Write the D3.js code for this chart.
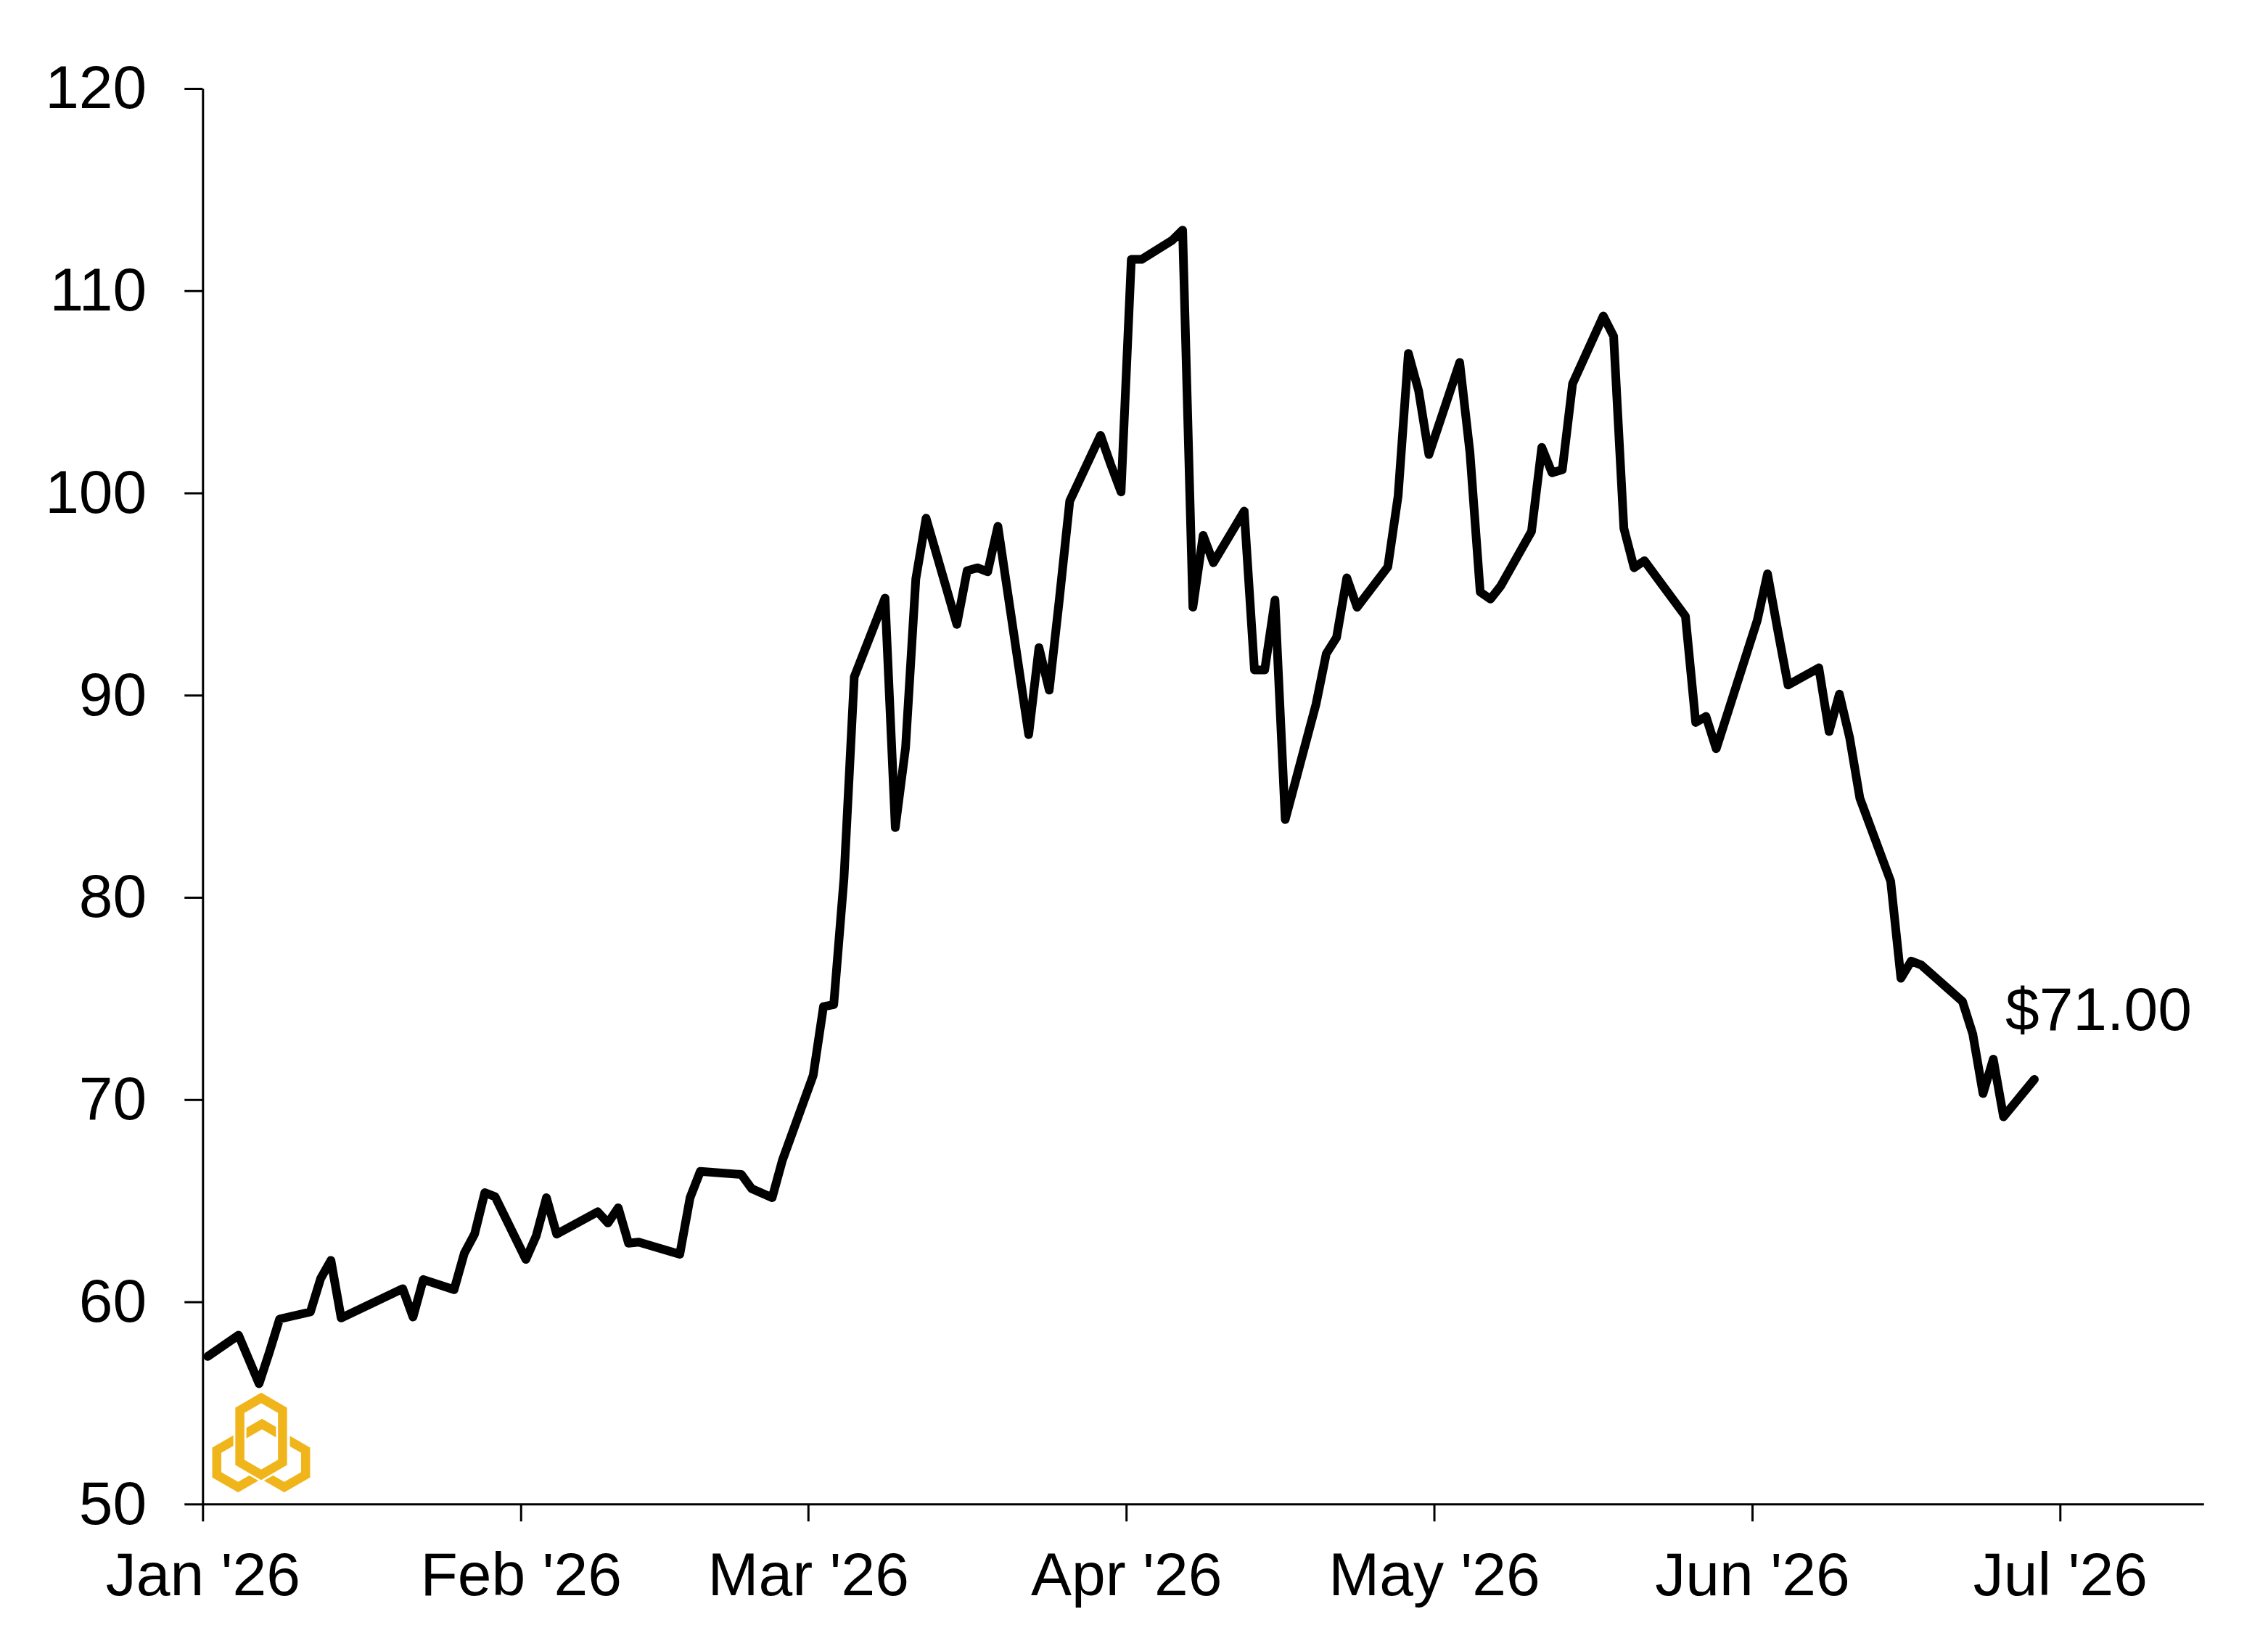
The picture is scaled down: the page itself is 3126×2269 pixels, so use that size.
<!DOCTYPE html>
<html>
<head>
<meta charset="utf-8">
<script src="https://cdn.jsdelivr.net/npm/d3@7"></script>
<style>
  html, body { margin: 0; padding: 0; background: #fff; }
  svg { display: block; }
</style>
</head>
<body>
<div id="chart"></div>
<script>
// trading days and closing prices
const dates = [
  '2026-01-02', '2026-01-05', '2026-01-07', '2026-01-08', '2026-01-09', '2026-01-12', '2026-01-13', '2026-01-14', '2026-01-15',
  '2026-01-21', '2026-01-22', '2026-01-23', '2026-01-26', '2026-01-27', '2026-01-28', '2026-01-29', '2026-01-30',
  '2026-02-02', '2026-02-03', '2026-02-04', '2026-02-05', '2026-02-09', '2026-02-10', '2026-02-11', '2026-02-12', '2026-02-13',
  '2026-02-17', '2026-02-18', '2026-02-19', '2026-02-23', '2026-02-24', '2026-02-26', '2026-02-27',
  '2026-03-02', '2026-03-03', '2026-03-04', '2026-03-05', '2026-03-06', '2026-03-09', '2026-03-10', '2026-03-11', '2026-03-12', '2026-03-13',
  '2026-03-16', '2026-03-17', '2026-03-18', '2026-03-19', '2026-03-20', '2026-03-23', '2026-03-24', '2026-03-25', '2026-03-26', '2026-03-27',
  '2026-03-30', '2026-03-31', '2026-04-01', '2026-04-02', '2026-04-03', '2026-04-06', '2026-04-07', '2026-04-08', '2026-04-09', '2026-04-10',
  '2026-04-13', '2026-04-14', '2026-04-15', '2026-04-16', '2026-04-17', '2026-04-20', '2026-04-21', '2026-04-22', '2026-04-23', '2026-04-24',
  '2026-04-27', '2026-04-28', '2026-04-29', '2026-04-30', '2026-05-01', '2026-05-04', '2026-05-05', '2026-05-06', '2026-05-07', '2026-05-08',
  '2026-05-11', '2026-05-12', '2026-05-13', '2026-05-14', '2026-05-15', '2026-05-18', '2026-05-19', '2026-05-20', '2026-05-21', '2026-05-22',
  '2026-05-26', '2026-05-27', '2026-05-28', '2026-05-29', '2026-06-02', '2026-06-03', '2026-06-04', '2026-06-05',
  '2026-06-08', '2026-06-09', '2026-06-10', '2026-06-11', '2026-06-12', '2026-06-15', '2026-06-16', '2026-06-17', '2026-06-18',
  '2026-06-22', '2026-06-23', '2026-06-24', '2026-06-25', '2026-06-26', '2026-06-29'
]
const prices = [
  57.3, 58.35, 55.95, 57.5, 59.15, 59.5, 61.15, 62.05, 59.2,
  60.65, 59.25, 61.1, 60.6, 62.4, 63.35, 65.4, 65.2,
  62.1, 63.25, 65.15, 63.35, 64.45, 63.9, 64.65, 62.9, 62.95,
  62.35, 65.15, 66.45, 66.3, 65.6, 65.15, 67.0,
  71.2, 74.6, 74.7, 80.95, 90.9, 94.8, 83.45, 87.4, 95.75, 98.75,
  93.5, 96.15, 96.3, 96.1, 98.35, 88.05, 92.35, 90.25, 94.8, 99.6,
  102.85, 101.4, 100.05, 111.55, 111.55, 112.5, 113.0, 94.35, 97.9, 96.55,
  99.1, 91.25, 91.25, 94.7, 83.85, 89.55, 92.05, 92.85, 95.8, 94.35,
  96.35, 99.85, 106.9, 105.05, 101.9, 106.45, 102.0, 95.1, 94.75, 95.4,
  98.1, 102.25, 101.0, 101.15, 105.4, 108.75, 107.75, 98.25, 96.3, 96.65,
  93.9, 88.65, 88.95, 87.35, 93.7, 96.0, 93.2, 90.5,
  91.35, 88.2, 90.05, 87.9, 84.9, 80.8, 76.0, 76.85, 76.65,
  74.85, 73.25, 70.3, 72.0, 69.15, 71.0
]
const yTicks = [50, 60, 70, 80, 90, 100, 110, 120]
const xDomain = ['2026-01-01', '2026-07-15']
const lastLabel = '$71.00'

const width = 3126
const height = 2269
const margin = { left: 279.3, right: 88.7, top: 122, bottom: 195.7 }
const font = "'Liberation Sans', Arial, Helvetica, sans-serif"
const gold = '#f1b51c'

const parse = d3.timeParse('%Y-%m-%d')
const data = dates.map((d, i) => ({ date: parse(d), value: prices[i] }))

const svg = d3.select('#chart').append('svg')
  .attr('width', width)
  .attr('height', height)
  .attr('viewBox', `0 0 ${width} ${height}`)

svg.append('rect').attr('width', width).attr('height', height).attr('fill', '#fff')

const x = d3.scaleTime()
  .domain(xDomain.map(parse))
  .range([margin.left, width - margin.right])
const y = d3.scaleLinear()
  .domain([50, 120])
  .range([height - margin.bottom, margin.top])

// points sit half a day before the date, as in the original
const px = d => x(d3.timeHour.offset(d.date, -12))

// logo: three interlocked elongated hexagons
function hexRing (cx, cy, w, l) {
  const t = w * Math.tan(Math.PI / 6)
  return [[cx, cy - l - t], [cx + w, cy - l], [cx + w, cy + l], [cx, cy + l + t], [cx - w, cy + l], [cx - w, cy - l]]
}
const logo = svg.append('g')
const ring = hexRing(360, 1980, 29.4, 36)
;[120, 240, 0].forEach(a => {
  const pts = ring.map(p => p.join(',')).join(' ')
  const g = logo.append('g').attr('transform', `rotate(${a},360,1997.7)`)
  g.append('polygon').attr('points', pts)
    .attr('fill', 'none').attr('stroke', '#fff').attr('stroke-width', 18)
  g.append('polygon').attr('points', pts)
    .attr('fill', 'none').attr('stroke', gold).attr('stroke-width', 12.5)
    .attr('stroke-linejoin', 'miter')
})

// axes
const yAxis = svg.append('g')
  .attr('transform', `translate(${margin.left},0)`)
  .call(d3.axisLeft(y).tickValues(yTicks).tickSize(25).tickSizeOuter(0).tickPadding(52))

const xAxis = svg.append('g')
  .attr('transform', `translate(0,${height - margin.bottom})`)
  .call(d3.axisBottom(x)
    .ticks(d3.timeMonth.every(1))
    .tickFormat(d3.timeFormat("%b '%y"))
    .tickSize(24).tickSizeOuter(0).tickPadding(42))

;[xAxis, yAxis].forEach(a => {
  a.select('.domain').attr('stroke', '#000').attr('stroke-width', 3)
  a.selectAll('.tick line').attr('stroke', '#000').attr('stroke-width', 3)
  a.selectAll('.tick text')
    .attr('fill', '#000')
    .style('font-family', font)
    .style('font-size', '84px')
})

// price line
const line = d3.line()
  .x(px)
  .y(d => y(d.value))

svg.append('path')
  .datum(data)
  .attr('fill', 'none')
  .attr('stroke', '#000')
  .attr('stroke-width', 12)
  .attr('stroke-linejoin', 'round')
  .attr('stroke-linecap', 'round')
  .attr('d', line)

const last = data[data.length - 1]
svg.append('text')
  .attr('x', px(last) - 40)
  .attr('y', y(last.value) - 68)
  .attr('fill', '#000')
  .style('font-family', font)
  .style('font-size', '84px')
  .text(lastLabel)
</script>
</body>
</html>
